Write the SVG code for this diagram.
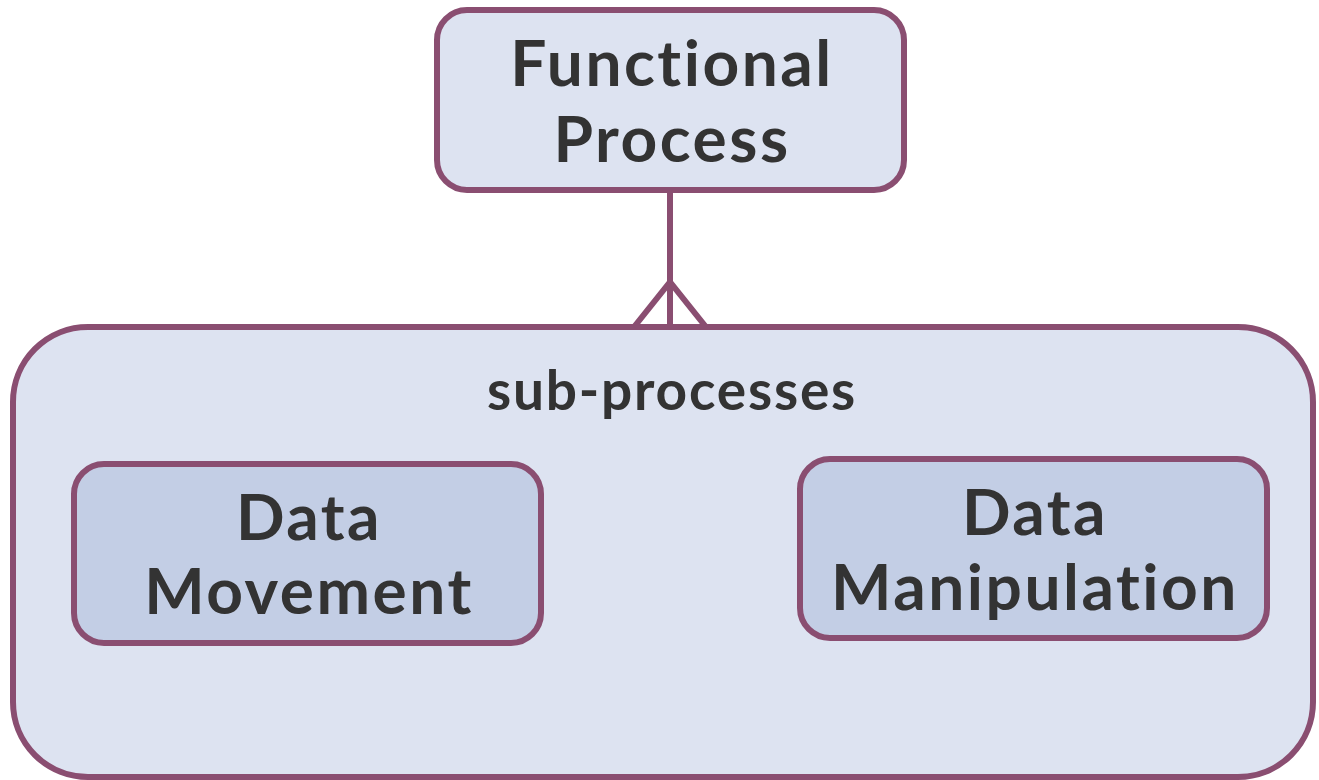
<svg xmlns="http://www.w3.org/2000/svg" width="1319" height="780" viewBox="0 0 1319 780">
<style>
.box{stroke:#8A4E71;stroke-width:6;}
.outer{fill:#DDE3F1;}
.inner{fill:#C3CEE5;}
.lbl{font-family:Lato,"Open Sans","Liberation Sans",sans-serif;font-weight:bold;fill:#333333;text-anchor:middle;font-variant-ligatures:none;}
.big{font-size:64px;letter-spacing:2.5px;}
.mid{font-size:55px;letter-spacing:1.8px;}
.conn{stroke:#8A4E71;stroke-width:6;fill:none;}
</style>
<rect width="1319" height="780" fill="#FFFFFF"/>
<g id="sub-processes">
<rect class="box outer" x="13" y="327" width="1300" height="450" rx="75"/>
<text class="lbl mid" x="672" y="410">sub-processes</text>
</g>
<g id="functional-process">
<rect class="box outer" x="437" y="10" width="467" height="180" rx="30"/>
<text class="lbl big" x="672" y="86">Functional</text>
<text class="lbl big" x="672" y="162">Process</text>
</g>
<g id="data-movement">
<rect class="box inner" x="74" y="464" width="467" height="179" rx="30"/>
<text class="lbl big" x="309" y="540">Data</text>
<text class="lbl big" x="309" y="614">Movement</text>
</g>
<g id="data-manipulation">
<rect class="box inner" x="800" y="459" width="467" height="179" rx="30"/>
<text class="lbl big" x="1035" y="535">Data</text>
<text class="lbl big" x="1035" y="610">Manipulation</text>
</g>
<g id="connectors">
<line class="conn" x1="670" y1="190" x2="670" y2="327"/>
<polyline class="conn" points="634,327 670,282 706,327"/>
</g>
</svg>
